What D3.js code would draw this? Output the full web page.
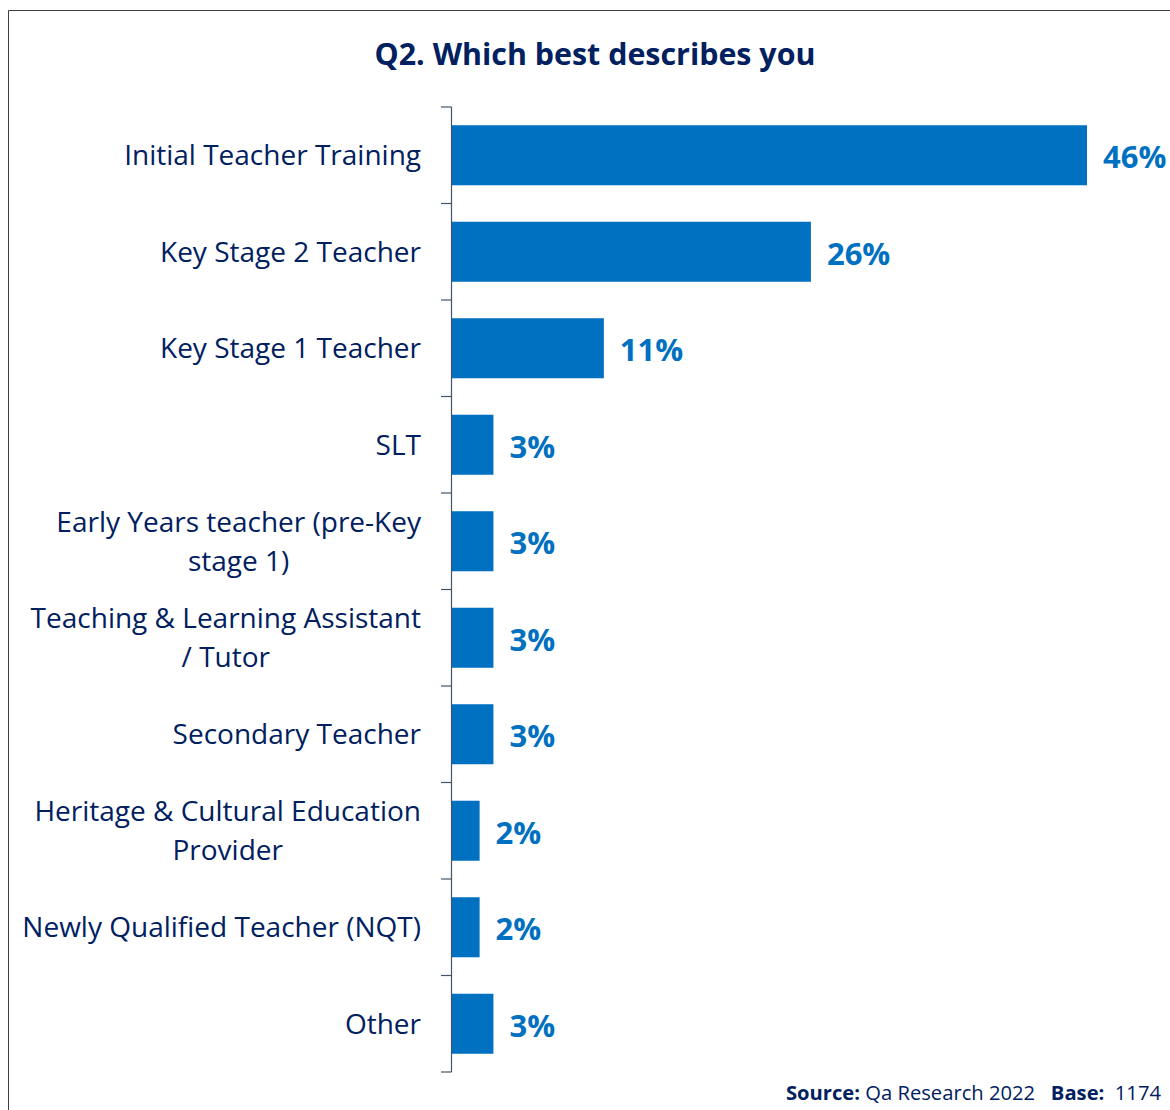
<!DOCTYPE html>
<html>
<head>
<meta charset="utf-8">
<script src="https://cdn.jsdelivr.net/npm/d3@7"></script>
<style>
  html, body { margin: 0; padding: 0; background: #fff; }
  svg { display: block; font-family: "Open Sans", "Noto Sans", sans-serif; }
</style>
</head>
<body>
<svg id="chart" width="1170" height="1110"></svg>
<script>
// Survey answers to Q2, share of respondents (%)
const categories = [
  "Initial Teacher Training",
  "Key Stage 2 Teacher",
  "Key Stage 1 Teacher",
  "SLT",
  "Early Years teacher (pre-Key\nstage 1)",
  "Teaching & Learning Assistant\n/ Tutor",
  "Secondary Teacher",
  "Heritage & Cultural Education\nProvider",
  "Newly Qualified Teacher (NQT)",
  "Other"
];
const values = [46, 26, 11, 3, 3, 3, 3, 2, 2, 3];
const valueLabels = ["46%", "26%", "11%", "3%", "3%", "3%", "3%", "2%", "2%", "3%"];

const titleText = "Q2. Which best describes you";
const sourceLabel = "Source:";
const sourceText = "Qa Research 2022";
const baseLabel = "Base:";
const baseText = "1174";

const barColor = "#0070C0";
const navy = "#002060";
const axisColor = "#44546A";

const svg = d3.select("#chart");

// outer frame (top and left edges visible)
svg.append("path")
  .attr("d", "M8.5,1115 V10.5 H1175")
  .attr("fill", "none")
  .attr("stroke", "#3f3f3f")
  .attr("stroke-width", 1);

// title
svg.append("text")
  .attr("x", 595)
  .attr("y", 65)
  .attr("text-anchor", "middle")
  .attr("font-size", 30.4)
  .attr("font-weight", 700)
  .attr("fill", navy)
  .text(titleText);

const data = categories.map((c, i) => ({ cat: c, value: values[i], label: valueLabels[i] }));

const x = d3.scaleLinear()
  .domain([0, d3.max(values)])
  .range([452, 1087]);

const y = d3.scaleBand()
  .domain(categories)
  .range([107, 1072])
  .paddingInner(0.378)
  .paddingOuter(0.189);

// bars
svg.append("g")
  .selectAll("rect")
  .data(data)
  .join("rect")
  .attr("x", x(0))
  .attr("y", d => y(d.cat))
  .attr("width", d => x(d.value) - x(0))
  .attr("height", y.bandwidth())
  .attr("fill", barColor);

// category axis: vertical line with ticks between categories
const gap = (y.step() - y.bandwidth()) / 2;
const boundaries = categories.map(c => y(c) - gap).concat([y.range()[1]]);
const axis = svg.append("g");
axis.append("line")
  .attr("x1", x(0) - 0.5).attr("x2", x(0) - 0.5)
  .attr("y1", boundaries[0]).attr("y2", boundaries[boundaries.length - 1])
  .attr("stroke", axisColor).attr("stroke-width", 1.2);
axis.selectAll("line.tick")
  .data(boundaries)
  .join("line")
  .attr("class", "tick")
  .attr("x1", x(0) - 11).attr("x2", x(0) - 0.5)
  .attr("y1", d => d).attr("y2", d => d)
  .attr("stroke", axisColor).attr("stroke-width", 1.2);

// category labels: right-aligned block, wrapped lines centred within it
const labelRight = 421;
const lineHeight = 39;
const labelGroups = svg.append("g")
  .selectAll("g")
  .data(data)
  .join("g");
labelGroups.each(function (d) {
  const g = d3.select(this);
  const lines = d.cat.split("\n");
  const cy = y(d.cat) + y.bandwidth() / 2;
  const texts = lines.map((ln, i) =>
    g.append("text")
      .attr("y", cy + (i - (lines.length - 1) / 2) * lineHeight)
      .attr("dy", "0.36em")
      .attr("font-size", 28)
      .attr("fill", navy)
      .text(ln)
  );
  const widths = texts.map(t => t.node().getComputedTextLength());
  const maxW = d3.max(widths);
  texts.forEach(t => {
    t.attr("x", labelRight - maxW / 2).attr("text-anchor", "middle");
  });
});

// value labels
svg.append("g")
  .selectAll("text")
  .data(data)
  .join("text")
  .attr("x", d => x(d.value) + 16)
  .attr("y", d => y(d.cat) + y.bandwidth() / 2 + 2)
  .attr("dy", "0.36em")
  .attr("font-size", 31)
  .attr("font-weight", 700)
  .attr("fill", barColor)
  .text(d => d.label);

// source / base footnote
const foot = svg.append("text")
  .attr("x", 1161)
  .attr("y", 1100)
  .attr("text-anchor", "end")
  .attr("font-size", 20.2)
  .attr("fill", navy)
  .attr("xml:space", "preserve");
foot.append("tspan").attr("font-weight", 700).text(sourceLabel);
foot.append("tspan").text(" " + sourceText + "   ");
foot.append("tspan").attr("font-weight", 700).text(baseLabel);
foot.append("tspan").text("  " + baseText);
</script>
</body>
</html>
